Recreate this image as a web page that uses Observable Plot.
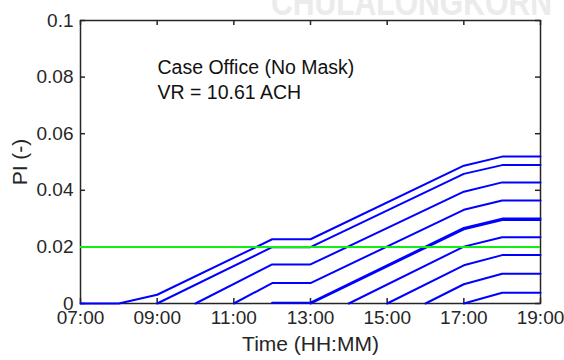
<!DOCTYPE html>
<html>
<head>
<meta charset="utf-8">
<script src="https://cdn.jsdelivr.net/npm/d3@7"></script>
<script src="https://cdn.jsdelivr.net/npm/@observablehq/plot@0.6"></script>
<style>
  html, body { margin: 0; padding: 0; background: #fff; }
  #wrap { position: relative; width: 564px; height: 360px; overflow: hidden; }
  #mark { position: absolute; left: 271px; top: -15px; font: bold 36px "Liberation Sans", Arial, sans-serif;
          line-height: 36px; color: #ebebeb; white-space: nowrap;
          transform: scaleX(0.836); transform-origin: left top; }
  #chart { position: absolute; left: 0; top: 0; }
</style>
</head>
<body>
<div id="wrap">
  <div id="mark">CHULALONGKORN</div>
  <div id="chart"></div>
</div>
<script>
// Axis ticks (hours of the day) and PI ticks
const xTicks = [7, 9, 11, 13, 15, 17, 19];
const yTicks = [0, 0.02, 0.04, 0.06, 0.08, 0.1];
const threshold = 0.02;

// Probability of infection for occupants arriving at different hours: [hour, PI]
const arrive0700 = [[7, 0], [8, 0], [9, 0.0031], [12, 0.0227], [13, 0.0227], [17, 0.0487], [18, 0.0519], [19, 0.0519]];
const arrive0900 = [[9, 0], [12, 0.0199], [13, 0.0199], [17, 0.0458], [18, 0.0489], [19, 0.0489]];
const arrive1000 = [[10, 0], [12, 0.0138], [13, 0.0138], [17, 0.0395], [18, 0.0428], [19, 0.0428]];
const arrive1100 = [[11, 0], [12, 0.0072], [13, 0.0072], [17, 0.0331], [18, 0.0364], [19, 0.0364]];
const arrive1200 = [[12, 0.0003], [13, 0.0003], [17, 0.0267], [18, 0.0300], [19, 0.0300]];
const arrive1300 = [[13, 0], [17, 0.0262], [18, 0.0295], [19, 0.0295]];
const arrive1400 = [[14, 0], [17, 0.0201], [18, 0.0234], [19, 0.0234]];
const arrive1500 = [[15, 0], [17, 0.0135], [18, 0.0171], [19, 0.0171]];
const arrive1600 = [[16, 0], [17, 0.0068], [18, 0.0105], [19, 0.0105]];
const arrive1700 = [[17, 0], [18, 0.0038], [19, 0.0038]];

const groups = [
  ["07:00", arrive0700], ["09:00", arrive0900], ["10:00", arrive1000], ["11:00", arrive1100],
  ["12:00", arrive1200], ["13:00", arrive1300], ["14:00", arrive1400], ["15:00", arrive1500],
  ["16:00", arrive1600], ["17:00", arrive1700]
];
const rows = groups.flatMap(([name, pts]) => pts.map(([t, v]) => ({group: name, time: t, pi: v})));

const W = 564, H = 360;
const mL = 80, mR = 24, mT = 20, mB = 57;
const innerW = W - mL - mR, innerH = H - mT - mB;
const tickLen = 5;
const ink = "#262626";
const font = "'Liberation Sans', Arial, sans-serif";

const hhmm = h => String(h).padStart(2, "0") + ":00";
const piFmt = v => String(+v.toFixed(2));

const chart = Plot.plot({
  width: W, height: H,
  marginLeft: mL, marginRight: mR, marginTop: mT, marginBottom: mB,
  style: {fontFamily: font, background: "transparent", color: ink, overflow: "visible"},
  x: {domain: [7, 19], axis: null},
  y: {domain: [0, 0.1], axis: null},
  marks: [
    Plot.frame({stroke: ink, strokeWidth: 1.5}),
    // inward ticks on all four sides
    Plot.tickX(xTicks, {x: d => d, stroke: ink, strokeWidth: 1.5, insetTop: innerH - tickLen}),
    Plot.tickX(xTicks, {x: d => d, stroke: ink, strokeWidth: 1.5, insetBottom: innerH - tickLen}),
    Plot.tickY(yTicks, {y: d => d, stroke: ink, strokeWidth: 1.5, insetRight: innerW - tickLen}),
    Plot.tickY(yTicks, {y: d => d, stroke: ink, strokeWidth: 1.5, insetLeft: innerW - tickLen}),
    // tick labels
    Plot.text(xTicks, {x: d => d, text: hhmm, frameAnchor: "bottom", dy: 20, fontSize: 19, fill: ink}),
    Plot.text(yTicks, {y: d => d, text: piFmt, frameAnchor: "left", dx: -7, textAnchor: "end", fontSize: 19, fill: ink}),
    // axis titles
    Plot.text(["Time (HH:MM)"], {frameAnchor: "bottom", dy: 47, fontSize: 21, fill: ink}),
    Plot.text(["PI (-)"], {frameAnchor: "left", dx: -60, textAnchor: "middle", rotate: -90, fontSize: 21, fill: ink}),
    // PI curves
    Plot.line(rows, {x: "time", y: "pi", z: "group", stroke: "#0000ff", strokeWidth: 2}),
    // threshold
    Plot.ruleY([threshold], {stroke: "#11ee11", strokeWidth: 2}),
    // case annotation
    Plot.text(["Case Office (No Mask)\nVR = 10.61 ACH"], {
      frameAnchor: "top-left", dx: 77, dy: 36, textAnchor: "start", lineAnchor: "top",
      lineHeight: 1.28, fontSize: 19.5, fill: "#111"
    })
  ]
});
document.getElementById("chart").appendChild(chart);
</script>
</body>
</html>
